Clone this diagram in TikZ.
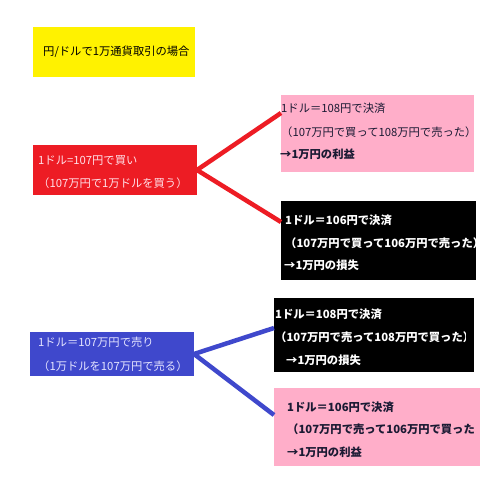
\documentclass[tikz,border=0pt]{standalone}
\usepackage{fontspec}
\setmainfont{Noto Sans CJK JP}
\definecolor{yel}{HTML}{FFF200}
\definecolor{rd}{HTML}{ED1C24}
\definecolor{bl}{HTML}{3F48CC}
\definecolor{pk}{HTML}{FFAEC9}
\definecolor{rdtxt}{HTML}{FFE0E8}
\definecolor{bltxt}{HTML}{E4E4FF}
\definecolor{dk}{HTML}{1A1A33}
\begin{document}
\begin{tikzpicture}[x=1pt,y=-1pt,
  box/.style={draw=none, inner sep=0pt, outer sep=0pt, anchor=north west, rectangle},
  txt/.style={anchor=base west, inner sep=0pt, font=\fontsize{11.3}{13}\selectfont},
  btxt/.style={txt, font=\fontsize{11.3}{13}\selectfont\bfseries},
  redline/.style={draw=rd, line width=4.5pt},
  blueline/.style={draw=bl, line width=4.5pt}]
\useasboundingbox[fill=white] (0,0) rectangle (486,500);
% boxes
\node[box, fill=yel, minimum width=162pt, minimum height=50pt] (title) at (33,27) {};
\node[box, fill=rd, minimum width=164pt, minimum height=50pt] (buy) at (33,145) {};
\node[box, fill=pk, minimum width=193pt, minimum height=77pt] (b1) at (281,95) {};
\node[box, fill=black, minimum width=195pt, minimum height=79pt] (b2) at (281,201) {};
\node[box, fill=bl, minimum width=164pt, minimum height=44pt] (sell) at (30,332) {};
\node[box, fill=black, minimum width=200pt, minimum height=74pt] (s1) at (274,298) {};
\node[box, fill=pk, minimum width=206pt, minimum height=78pt] (s2) at (274,388) {};
% connector ends
\coordinate (b1in) at (281,113);
\coordinate (b2in) at (281,222);
\coordinate (s1in) at (274,328);
\coordinate (s2in) at (274,415);
\draw[redline] (buy.east) -- (b1in);
\draw[redline] (buy.east) -- (b2in);
\draw[blueline] (sell.east) -- (s1in);
\draw[blueline] (sell.east) -- (s2in);
% texts
\node[txt, text=black] (t0) at (43,56) {円/ドルで1万通貨取引の場合};
\node[txt, text=rdtxt] (r1) at (38,164) {1ドル=107円で買い};
\node[txt, text=rdtxt] (r2) at (38,187) {（107万円で1万ドルを買う）};
\node[txt, text=dk] (p1) at (281,113) {1ドル＝108円で決済};
\node[txt, text=dk] (p2) at (281,136) {（107万円で買って108万円で売った）};
\node[btxt, text=dk] (p3) at (280,158) {→1万円の利益};
\node[btxt, text=white] (k1) at (285,224) {1ドル＝106円で決済};
\node[btxt, text=white] (k2) at (285,247) {（107万円で買って106万円で売った）};
\node[btxt, text=white] (k3) at (284,269) {→1万円の損失};
\node[txt, text=bltxt] (u1) at (38,346) {1ドル＝107万円で売り};
\node[txt, text=bltxt] (u2) at (38,370) {（1万ドルを107万円で売る）};
\begin{scope}
\clip (274,298) rectangle (465,372);
\node[btxt, text=white] (v1) at (275,318) {1ドル＝108円で決済};
\node[btxt, text=white] (v2) at (275,341) {（107万円で売って108万円で買った）};
\node[btxt, text=white] (v3) at (286,364) {→1万円の損失};
\end{scope}
\node[btxt, text=dk] (w1) at (287,411) {1ドル＝106円で決済};
\node[btxt, text=dk] (w2) at (287,433) {（107万円で売って106万円で買った};
\node[btxt, text=dk] (w3) at (287,456) {→1万円の利益};
\end{tikzpicture}
\end{document}
